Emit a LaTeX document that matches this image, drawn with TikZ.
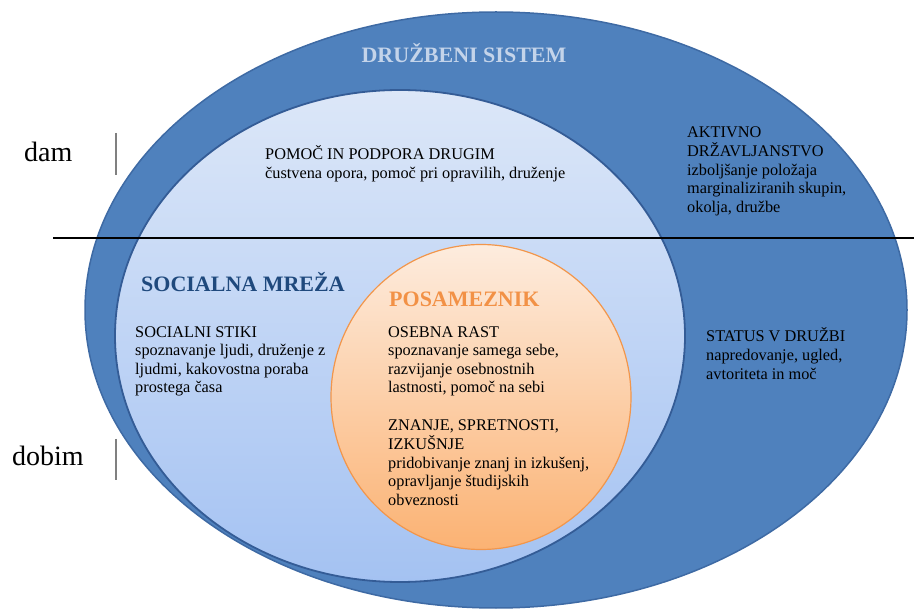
\documentclass[tikz,border=0pt]{standalone}
\usepackage{fontspec}
\setmainfont{Liberation Serif}
\usepackage{tikz}
\usetikzlibrary{shapes.geometric}

\definecolor{sistemblue}{RGB}{79,129,189}
\definecolor{sistemrim}{RGB}{62,106,164}
\definecolor{mrezatop}{RGB}{220,231,248}
\definecolor{mrezabot}{RGB}{164,194,242}
\definecolor{mrezarim}{RGB}{52,92,150}
\definecolor{postop}{RGB}{253,236,222}
\definecolor{posbot}{RGB}{251,178,115}
\definecolor{posrim}{RGB}{242,150,75}
\definecolor{sistemtxt}{RGB}{196,212,234}
\definecolor{mrezatxt}{RGB}{31,73,125}
\definecolor{postxt}{RGB}{242,145,70}

\begin{document}
\begin{tikzpicture}[x=1pt,y=-1pt]
\tikzstyle{oval}=[ellipse,inner sep=0pt]
\tikzstyle{txt}=[anchor=base west,align=left,inner sep=0pt,font=\fontsize{16.3}{18.6}\selectfont]
\tikzstyle{title}=[inner sep=0pt,font=\fontsize{22}{26}\selectfont\bfseries]
\tikzstyle{side}=[anchor=base west,inner sep=0pt,font=\fontsize{28}{32}\selectfont]
\useasboundingbox (0,0) rectangle (914,612);
\node[oval,fill=sistemblue,draw=sistemrim,line width=1.5pt,minimum width=822,minimum height=596] (sistem) at (496,310) {};
\node[oval,top color=mrezatop,bottom color=mrezabot,draw=mrezarim,line width=1.8pt,minimum width=570,minimum height=492] (mreza) at (400,336) {};
\node[oval,top color=postop,bottom color=posbot,draw=posrim,line width=1.2pt,minimum width=300,minimum height=305] (posameznik) at (481,397) {};
\node[title,text=sistemtxt,anchor=base] (tsistem) at (464,63) {DRUŽBENI SISTEM};
\node[title,text=mrezatxt,anchor=base west] (tmreza) at (141,292) {SOCIALNA MREŽA};
\node[title,text=postxt,anchor=base west] (tpos) at (389,307) {POSAMEZNIK};
\node[txt] (pomoc) at (265,178.6) {POMOČ IN PODPORA DRUGIM\\čustvena opora, pomoč pri opravilih, druženje};
\node[txt] (aktivno) at (687,212.4) {AKTIVNO\\DRŽAVLJANSTVO\\izboljšanje položaja\\marginaliziranih skupin,\\okolja, družbe};
\node[txt] (stiki) at (135,393) {SOCIALNI STIKI\\spoznavanje ljudi, druženje z\\ljudmi, kakovostna poraba\\prostega časa};
\node[txt] (rast) at (388,393) {OSEBNA RAST\\spoznavanje samega sebe,\\razvijanje osebnostnih\\lastnosti, pomoč na sebi};
\node[txt] (znanje) at (388,505.4) {ZNANJE, SPRETNOSTI,\\IZKUŠNJE\\pridobivanje znanj in izkušenj,\\opravljanje študijskih\\obveznosti};
\node[txt] (status) at (706,379.2) {STATUS V DRUŽBI\\napredovanje, ugled,\\avtoriteta in moč};
\draw[line width=2pt] (53,238) -- (914,238);
\foreach \name/\x/\y/\ya/\yb in {dam/24/162/133/175, dobim/12/466/439/480}{
	\node[side] (\name) at (\x,\y) {\name};
	\draw[black!50,line width=1.2pt] (116,\ya) -- (116,\yb);
}
\end{tikzpicture}
\end{document}
